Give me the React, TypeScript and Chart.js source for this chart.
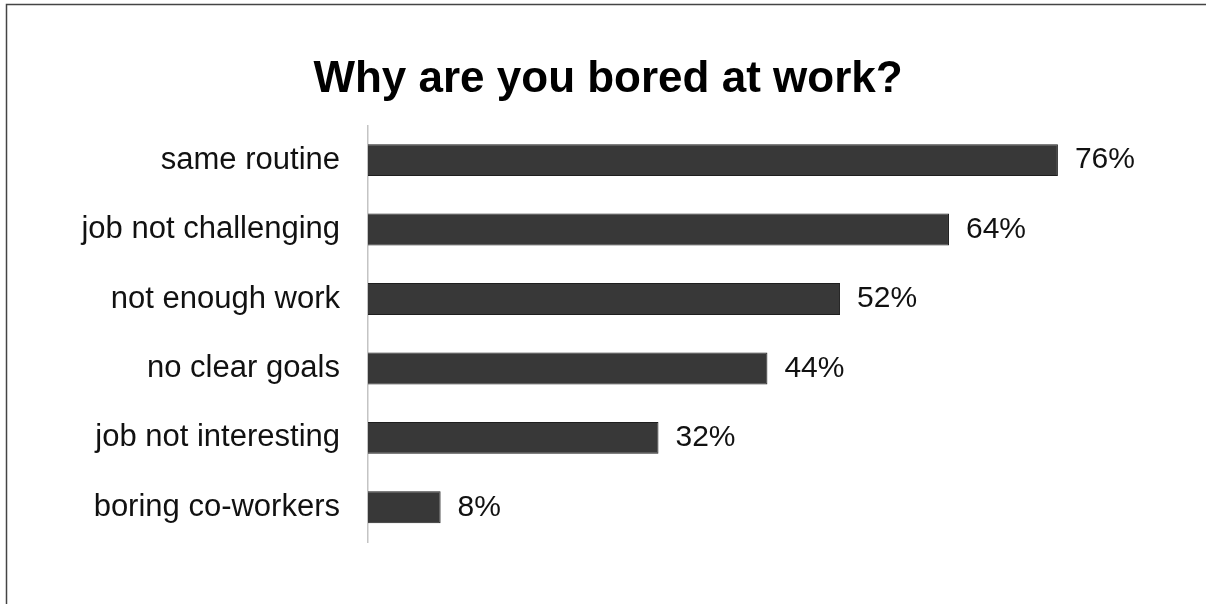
import React, { useEffect, useRef } from "react";
import { Chart, registerables } from "chart.js";

Chart.register(...registerables);

const titleText = "Why are you bored at work?";
const categories = [
  "same routine",
  "job not challenging",
  "not enough work",
  "no clear goals",
  "job not interesting",
  "boring co-workers",
];
const values = [76, 64, 52, 44, 32, 8];

const FONT = "'Liberation Sans', Arial, Helvetica, sans-serif";

const framePlugin = {
  id: "frame",
  beforeDraw(chart: any) {
    const { ctx, width, height } = chart;
    ctx.save();
    ctx.fillStyle = "#ffffff";
    ctx.fillRect(0, 0, width, height);
    ctx.strokeStyle = "#444444";
    ctx.lineWidth = 1.5;
    ctx.beginPath();
    ctx.moveTo(6.5, height);
    ctx.lineTo(6.5, 4.5);
    ctx.lineTo(width, 4.5);
    ctx.stroke();
    ctx.restore();
  },
};

const valueLabelPlugin = {
  id: "valueLabels",
  afterDatasetsDraw(chart: any) {
    const { ctx } = chart;
    const meta = chart.getDatasetMeta(0);
    ctx.save();
    ctx.font = `30px ${FONT}`;
    ctx.fillStyle = "#111111";
    ctx.textAlign = "left";
    ctx.textBaseline = "middle";
    meta.data.forEach((bar: any, i: number) => {
      ctx.fillText(`${values[i]}%`, bar.x + 17, bar.y);
    });
    ctx.restore();
  },
};

export default function App() {
  const canvasRef = useRef<HTMLCanvasElement | null>(null);

  useEffect(() => {
    if (!canvasRef.current) return;
    const chart = new Chart(canvasRef.current, {
      type: "bar",
      data: {
        labels: categories,
        datasets: [
          {
            data: values,
            backgroundColor: "#383838",
            borderColor: "#1e1e1e",
            borderWidth: 1,
            categoryPercentage: 0.5,
            barPercentage: 0.92,
          },
        ],
      },
      options: {
        indexAxis: "y",
        responsive: false,
        animation: false,
        devicePixelRatio: 1,
        layout: {
          padding: { left: 31, right: 21, top: 10, bottom: 62 },
        },
        plugins: {
          legend: { display: false },
          tooltip: { enabled: false },
          title: {
            display: true,
            text: titleText,
            color: "#000000",
            font: { family: FONT, size: 44, weight: "bold", lineHeight: 1.2 },
            padding: { top: 43.6, bottom: 19.0 },
          },
        },
        scales: {
          x: {
            display: false,
            min: 0,
            max: 90,
          },
          y: {
            grid: { display: false, drawTicks: false },
            border: { display: true, color: "#c4c4c4", width: 1.5 },
            ticks: {
              color: "#111111",
              padding: 28,
              font: { family: FONT, size: 31 },
            },
            afterFit: (scale: any) => {
              scale.width = 368 - 31;
            },
          },
        },
      },
      plugins: [framePlugin, valueLabelPlugin],
    });
    return () => chart.destroy();
  }, []);

  return (
    <div
      style={{
        position: "fixed",
        left: 0,
        top: 0,
        width: 1206,
        height: 604,
        overflow: "hidden",
        background: "#ffffff",
      }}
    >
      <canvas ref={canvasRef} width={1206} height={604} style={{ display: "block" }} />
    </div>
  );
}
